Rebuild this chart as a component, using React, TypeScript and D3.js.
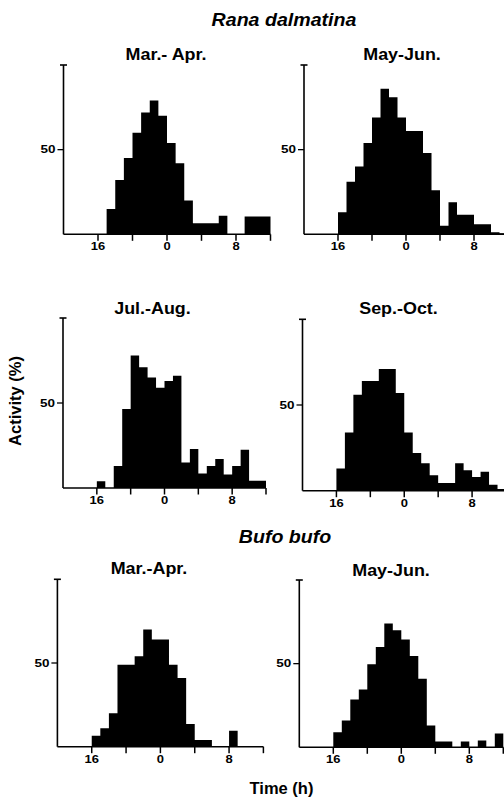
import React from 'react';
import * as d3 from 'd3';

// Hour bins (start hour of each 1-h bin), from noon to noon
const HOURS = [12, 13, 14, 15, 16, 17, 18, 19, 20, 21, 22, 23, 0, 1, 2, 3, 4, 5, 6, 7, 8, 9, 10, 11];
const X_TICKS = [16, 20, 0, 4, 8, 12];
const X_TICK_LABELS = ['16', '', '0', '', '8', ''];
const Y_TICKS = [50];
const Y_MAX = 100;

const SPECIES = ['Rana dalmatina', 'Bufo bufo'];
const PANEL_TITLES = ['Mar.- Apr.', 'May-Jun.', 'Jul.-Aug.', 'Sep.-Oct.', 'Mar.-Apr.', 'May-Jun.'];
const Y_LABEL = 'Activity (%)';
const X_LABEL = 'Time (h)';

// Activity (%) per hour bin, in HOURS order
const ranaMarApr = [0, 0, 0, 0, 0, 15, 32, 45, 60, 72, 79, 70, 54, 42, 20, 6.5, 6.5, 6.5, 11, 0, 0, 10.5, 10.5, 10.5];
const ranaMayJun = [0, 0, 0, 0, 13, 31, 40, 54, 69, 86, 81, 69, 61, 61, 48, 26, 5, 19, 11.5, 11.5, 6, 6, 1.2, 0.6];
const ranaJulAug = [0, 0, 0, 0, 4, 0, 13, 46.5, 78, 71, 65, 59, 63, 66, 15, 23, 8.5, 13, 17, 8, 13, 22.5, 4.3, 4.3];
const ranaSepOct = [0, 0, 0, 0, 13, 34, 56, 64, 64, 71, 71, 57, 34, 22, 16, 9, 4.5, 4.5, 16, 12, 8, 11, 3.5, 1];
const bufoMarApr = [0, 0, 0, 0, 6.6, 11, 20, 49, 49, 54, 70, 64, 64, 49, 41, 13.6, 4, 4, 0, 0, 9.5, 0, 0, 0];
const bufoMayJun = [0, 0, 0, 0, 9, 16, 28.6, 34.5, 49.6, 60, 74, 70, 64.5, 54.6, 41, 13, 3.5, 3.5, 0, 3.5, 0, 4, 0, 8.3];

const SERIES = [ranaMarApr, ranaMayJun, ranaJulAug, ranaSepOct, bufoMarApr, bufoMayJun];

// Layout (pixels)
const LAYOUT = [
  { left: 63.5, width: 207, top: 65, base: 234.3, tx: 166, ty: 60 },
  { left: 304, width: 204, top: 65, base: 234.3, tx: 402, ty: 60 },
  { left: 63, width: 203, top: 318, base: 488, tx: 152.5, ty: 313.5 },
  { left: 302.5, width: 203.5, top: 319.3, base: 490.7, tx: 398.5, ty: 314 },
  { left: 57.4, width: 206, top: 579.3, base: 746.7, tx: 149, ty: 573.5 },
  { left: 299.3, width: 204, top: 580, base: 747.3, tx: 391, ty: 575.5 },
];

const FONT = '"Liberation Sans", Arial, Helvetica, sans-serif';

const hourOffset = (h: number, isEnd = false) => (isEnd && h === 12 ? 12 : h >= 12 ? h - 24 : h);

function Panel({ idx }: { idx: number }) {
  const L = LAYOUT[idx];
  const data = SERIES[idx];
  const x = d3.scaleLinear().domain([-12, 12]).range([L.left, L.left + L.width]);
  const y = d3.scaleLinear().domain([0, Y_MAX]).range([L.base, L.top]);
  const sw = 1.6;
  const pts: [number, number][] = HOURS.map((h, i) => [hourOffset(h), data[i]]);
  pts.push([12, data[data.length - 1]]);
  const area = d3
    .area<[number, number]>()
    .x((d) => x(d[0]))
    .y0(y(0))
    .y1((d) => y(d[1]))
    .curve(d3.curveStepAfter);
  return (
    <g>
      {/* histogram */}
      <path d={area(pts) || ''} fill="#000" stroke="none" />
      {/* y axis */}
      <line x1={x(-12)} x2={x(-12)} y1={y(0)} y2={y(Y_MAX)} stroke="#000" strokeWidth={sw} />
      <line x1={x(-12) - 3.5} x2={x(-12) + 3.5} y1={y(Y_MAX)} y2={y(Y_MAX)} stroke="#000" strokeWidth={sw} />
      {Y_TICKS.map((t) => (
        <g key={t}>
          <line x1={x(-12) - 6} x2={x(-12)} y1={y(t)} y2={y(t)} stroke="#000" strokeWidth={1.3} />
          <g transform={`translate(${x(-12) - 8},${y(t) + 3.6}) scale(1.35,1)`}>
            <text textAnchor="end" fontFamily={FONT} fontWeight="bold" fontSize={10}>{t}</text>
          </g>
        </g>
      ))}
      {/* x axis */}
      <line x1={x(-12)} x2={x(12)} y1={y(0)} y2={y(0)} stroke="#000" strokeWidth={sw} />
      {X_TICKS.map((t, i) => {
        const xx = x(hourOffset(t, true));
        return (
          <g key={t}>
            <line x1={xx} x2={xx} y1={y(0)} y2={y(0) + 6.5} stroke="#000" strokeWidth={1.5} />
            {X_TICK_LABELS[i] && (
              <g transform={`translate(${xx},${y(0) + 16}) scale(1.3,1)`}>
                <text textAnchor="middle" fontFamily={FONT} fontWeight="bold" fontSize={10}>{X_TICK_LABELS[i]}</text>
              </g>
            )}
          </g>
        );
      })}
      {/* title */}
      <g transform={`translate(${L.tx},${L.ty}) scale(1.12,1)`}>
        <text textAnchor="middle" fontFamily={FONT} fontWeight="bold" fontSize={16}>{PANEL_TITLES[idx]}</text>
      </g>
    </g>
  );
}

export default function App() {
  return (
    <svg width={504} height={801} viewBox="0 0 504 801" style={{ position: 'absolute', left: 0, top: 0, background: '#fff' }}>
      <rect x={0} y={0} width={504} height={801} fill="#fff" />
      <g transform="translate(284,26) scale(1.06,1)">
        <text textAnchor="middle" fontFamily={FONT} fontStyle="italic" fontSize={18.5} fontWeight="bold">{SPECIES[0]}</text>
      </g>
      <g transform="translate(285,543) scale(1.06,1)">
        <text textAnchor="middle" fontFamily={FONT} fontStyle="italic" fontSize={18.5} fontWeight="bold">{SPECIES[1]}</text>
      </g>
      {SERIES.map((_, i) => (
        <Panel key={i} idx={i} />
      ))}
      <text transform="translate(21,401) rotate(-90)" textAnchor="middle" fontFamily={FONT} fontWeight="bold" fontSize={16.5}>{Y_LABEL}</text>
      <text x={281.5} y={793.5} textAnchor="middle" fontFamily={FONT} fontWeight="bold" fontSize={16.5}>{X_LABEL}</text>
    </svg>
  );
}
